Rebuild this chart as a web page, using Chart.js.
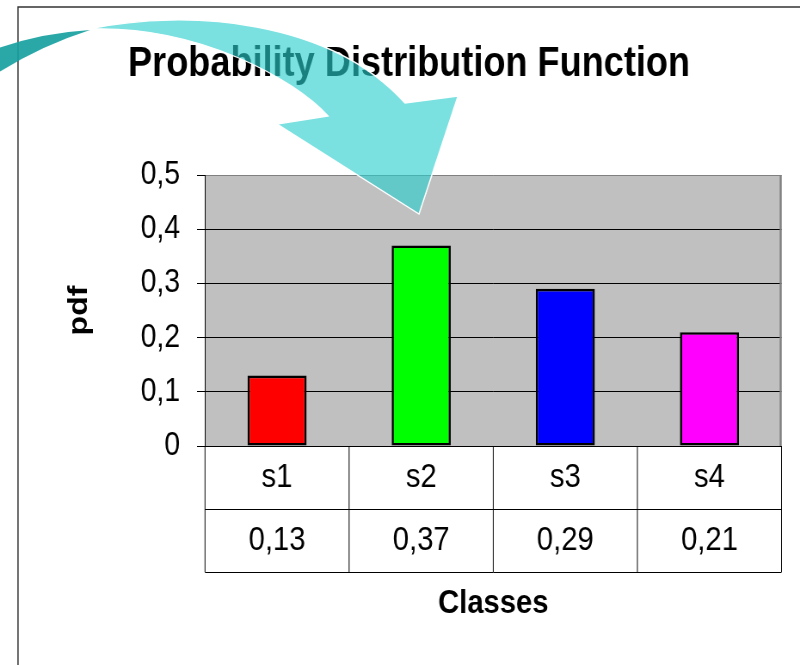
<!DOCTYPE html>
<html>
<head>
<meta charset="utf-8">
<script src="https://cdn.jsdelivr.net/npm/chart.js@4/dist/chart.umd.min.js"></script>
<style>
  html, body { margin: 0; padding: 0; background: #fff; overflow: hidden; }
  /* the chart is laid out on a wider stage and squeezed horizontally */
  #stage { width: 930px; height: 665px; transform: scaleX(0.86022); transform-origin: 0 0; }
</style>
</head>
<body>
<div id="stage"><canvas id="c"></canvas></div>
<script>
// ---- data ----
const categories = ['s1', 's2', 's3', 's4'];
const pdfValues = [0.13, 0.37, 0.29, 0.21];
const barColors = ['#ff0000', '#00ff00', '#0000ff', '#ff00ff'];
const yTickValues = [0, 0.1, 0.2, 0.3, 0.4, 0.5];
const yTickLabels = ['0', '0,1', '0,2', '0,3', '0,4', '0,5'];

const S = 800 / 930;          // horizontal squeeze of #stage
const px = x => x / S;        // page x -> canvas x
const ROW_H = 63;             // data-table row height
const comma = (v, d) => v.toFixed(d).replace('.', ',');

Chart.defaults.font.family = "'Liberation Sans', Arial, Helvetica, sans-serif";
Chart.defaults.color = '#000';

// grey plot background, slide frame and plot border
const framePlugin = {
  id: 'frame',
  beforeDraw(chart) {
    const { ctx, chartArea: a } = chart;
    ctx.save();
    ctx.fillStyle = '#c0c0c0';
    ctx.fillRect(a.left, a.top, a.width, a.height);
    ctx.strokeStyle = '#333';
    ctx.lineWidth = 1.5;
    ctx.beginPath();
    ctx.moveTo(px(18), chart.height);
    ctx.lineTo(px(18), 7);
    ctx.lineTo(chart.width, 7);
    ctx.stroke();
    ctx.restore();
  },
  beforeDatasetsDraw(chart) {
    const { ctx, chartArea: a } = chart;
    ctx.save();
    ctx.strokeStyle = '#808080';
    ctx.lineWidth = 2.3;
    ctx.beginPath();
    ctx.moveTo(a.right - 1, a.top);
    ctx.lineTo(a.right - 1, a.bottom);
    ctx.stroke();
    ctx.restore();
  }
};

// data table grid under the category axis
const tablePlugin = {
  id: 'dataTable',
  afterDraw(chart) {
    const { ctx } = chart;
    const xs = chart.scales.x;
    const n = categories.length;
    const top = xs.top;
    const bottom = top + ROW_H * 2;
    ctx.save();
    ctx.strokeStyle = '#000';
    ctx.lineWidth = 1;
    ctx.beginPath();
    for (let k = 0; k <= 2; k++) {
      const y = Math.round(top + ROW_H * k) + 0.5;
      ctx.moveTo(xs.left, y);
      ctx.lineTo(xs.right, y);
    }
    for (let i = 0; i <= n; i++) {
      let x;
      if (i === 0) x = xs.left;
      else if (i === n) x = xs.right;
      else x = (xs.getPixelForTick(i - 1) + xs.getPixelForTick(i)) / 2;
      ctx.moveTo(x, top);
      ctx.lineTo(x, bottom);
    }
    ctx.stroke();
    ctx.restore();
  }
};

// curved cyan arrow drawn over the title and plot
const arrowPlugin = {
  id: 'arrow',
  afterDraw(chart) {
    const { ctx } = chart;
    ctx.save();
    ctx.scale(1 / S, 1);
    // underside of the curled tail
    ctx.beginPath();
    ctx.moveTo(90, 30);
    ctx.quadraticCurveTo(40, 33, -4, 49);
    ctx.lineTo(-4, 74);
    ctx.quadraticCurveTo(40, 46, 90, 30);
    ctx.closePath();
    ctx.fillStyle = 'rgba(24,160,160,0.92)';
    ctx.fill();
    // ribbon and head
    ctx.beginPath();
    ctx.moveTo(88, 29);
    ctx.bezierCurveTo(190, 8, 330, 20, 405, 103);
    ctx.lineTo(458, 96);
    ctx.lineTo(419, 214);
    ctx.lineTo(277, 124);
    ctx.lineTo(328, 116);
    ctx.bezierCurveTo(295, 80, 200, 25, 88, 29);
    ctx.closePath();
    ctx.fillStyle = 'rgba(40,205,205,0.62)';
    ctx.fill();
    ctx.strokeStyle = '#fff';
    ctx.lineWidth = 1.3;
    ctx.lineJoin = 'miter';
    ctx.stroke();
    ctx.restore();
  }
};

new Chart(document.getElementById('c'), {
  type: 'bar',
  data: {
    labels: categories,
    datasets: [{
      data: pdfValues,
      backgroundColor: barColors,
      borderColor: '#000',
      borderWidth: 2.6,
      borderSkipped: false,
      barPercentage: 0.41,
      categoryPercentage: 1
    }]
  },
  options: {
    responsive: true,
    maintainAspectRatio: false,
    animation: false,
    layout: { padding: { left: 42.5, right: 21.5, top: 0, bottom: 0 } },
    plugins: {
      legend: { display: false },
      tooltip: { enabled: false },
      title: {
        display: true,
        text: 'Probability Distribution Function',
        color: '#000',
        font: { size: 42, weight: 'bold', lineHeight: 1.2 },
        padding: { top: 38.8, bottom: 85.8 }
      }
    },
    scales: {
      x: {
        grid: { display: false, drawTicks: false },
        border: { display: true, color: '#000', width: 1 },
        ticks: {
          color: '#000',
          font: { size: 34, lineHeight: ROW_H + 'px' },
          padding: 0,
          maxRotation: 0,
          autoSkip: false,
          callback: (v, i) => [categories[i], comma(pdfValues[i], 2)]
        },
        title: {
          display: true,
          text: 'Classes',
          color: '#000',
          font: { size: 34, weight: 'bold', lineHeight: 1.2 },
          padding: { top: 0, bottom: 41 }
        },
        afterFit: s => { s.height = 219; }
      },
      y: {
        min: 0,
        max: 0.5,
        afterBuildTicks: s => { s.ticks = yTickValues.map(v => ({ value: v })); },
        grid: {
          color: c => (c.tick && c.tick.value === 0.5 ? '#808080' : '#000'),
          tickColor: '#000',
          tickLength: 9.3,
          lineWidth: 1
        },
        border: { color: '#000', width: 1 },
        ticks: {
          color: '#000',
          font: { size: 33 },
          padding: 19.7,
          callback: (v, i) => yTickLabels[i]
        },
        title: {
          display: true,
          text: 'pdf',
          color: '#000',
          font: { size: 32, weight: 'bold', lineHeight: 1.2 },
          padding: { top: 30.1, bottom: 0 }
        },
        afterFit: s => { s.width = 195.8; }
      }
    }
  },
  plugins: [framePlugin, tablePlugin, arrowPlugin]
});
</script>
</body>
</html>
